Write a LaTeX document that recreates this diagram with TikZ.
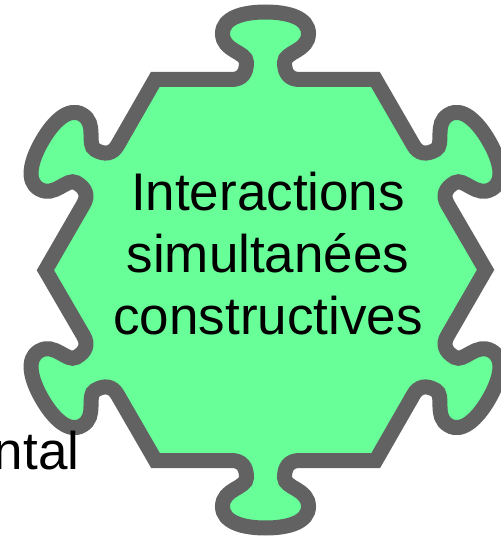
\documentclass[tikz,border=0pt]{standalone}
\usepackage{fontspec}
\setmainfont{Liberation Sans}
\usepackage{xcolor}
\definecolor{Mint}{RGB}{104,255,153}
\definecolor{Slate}{RGB}{98,98,98}
\tikzset{
  piece/.style={draw=Slate,line width=15pt,fill=Mint},
  bigtext/.style={font=\fontsize{53}{62.2}\selectfont,align=center,inner sep=0pt}
}
\begin{document}
\begin{tikzpicture}[x=1pt,y=1pt]
\useasboundingbox (-265.5,-266) rectangle (235.5,270);
% hexagon with one knob on every edge
\draw[piece] (34,190.5) \foreach \p in {-60,-120,-180,-240,-300,0} {
  -- ([rotate=\p]-110.25,190.5) -- ([rotate=\p]-34,190.5)
  .. controls ([rotate=\p]-24,190.5) and ([rotate=\p]-19,196.5) .. ([rotate=\p]-19,207.5)
  .. controls ([rotate=\p]-19,218.5) and ([rotate=\p]-43,218.5) .. ([rotate=\p]-43,236.5)
  .. controls ([rotate=\p]-43,252) and ([rotate=\p]-23,258) .. ([rotate=\p]0,258)
  .. controls ([rotate=\p]23,258) and ([rotate=\p]43,252) .. ([rotate=\p]43,236.5)
  .. controls ([rotate=\p]43,218.5) and ([rotate=\p]19,218.5) .. ([rotate=\p]19,207.5)
  .. controls ([rotate=\p]19,196.5) and ([rotate=\p]24,190.5) .. ([rotate=\p]34,190.5)
} -- cycle;
\node[bigtext] (title) at (2.5,16.5) {Interactions\\simultanées\\constructives};
\node[bigtext,anchor=base east] (cutword) at (-186,-199) {ntal};
\end{tikzpicture}
\end{document}
